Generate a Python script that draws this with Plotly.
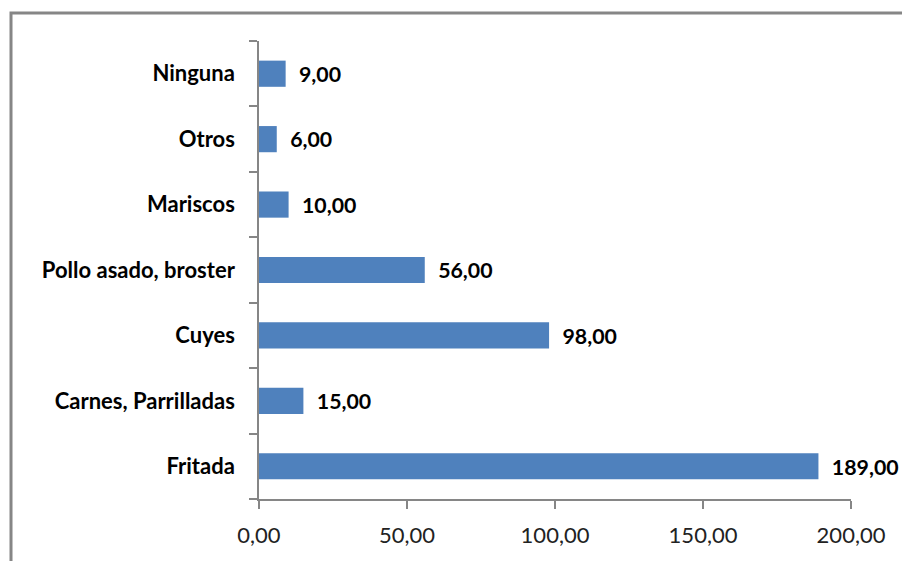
import plotly.graph_objects as go

categories = ["Fritada", "Carnes, Parrilladas", "Cuyes", "Pollo asado, broster", "Mariscos", "Otros", "Ninguna"]
values = [189, 15, 98, 56, 10, 6, 9]
x_ticks = [0, 50, 100, 150, 200]

W, H = 902, 561
ml, mr, mt, mb = 259, 51, 41, 62
pw, ph = W - ml - mr, H - mt - mb

def px(x):
    return (x - ml) / pw

def py(y):
    return (H - mb - y) / ph

axis_color = "#868686"

fig = go.Figure(go.Bar(
    y=categories, x=values, orientation="h",
    marker=dict(color="#4F81BD", line=dict(width=0)),
    texttemplate="\u00a0\u00a0%{x:.2f}", textposition="outside",
    textfont=dict(family="Lato", size=22, color="black", weight="bold"),
    cliponaxis=False, width=0.4,
))

fig.update_layout(
    width=W, height=H, margin=dict(l=ml, r=mr, t=mt, b=mb),
    paper_bgcolor="white", plot_bgcolor="white",
    separators=",.", showlegend=False,
    xaxis=dict(range=[0, 200], tickvals=x_ticks, tickformat=".2f",
               showgrid=False, zeroline=False, showline=True,
               linecolor=axis_color, linewidth=1.5, ticks="outside", ticklen=8,
               tickcolor=axis_color, tickwidth=1.5, ticklabelstandoff=8,
               tickfont=dict(family="Lato", size=22, color="#222")),
    yaxis=dict(showgrid=False, zeroline=False, showline=True,
               linecolor=axis_color, linewidth=1.5, ticks="outside", ticklen=8,
               tickcolor=axis_color, tickwidth=1.5, tickson="boundaries",
               ticklabelstandoff=18,
               tickfont=dict(family="Lato", size=22, color="black", weight="bold")),
    shapes=[dict(type="path", xref="paper", yref="paper",
                 path=f"M {px(11)} {py(562)} L {px(11)} {py(13)} L {px(910)} {py(13)}",
                 line=dict(color=axis_color, width=3))],
)

fig.write_html("out.html", config={"displayModeBar": False},
               post_script="document.body.style.margin='0';document.body.style.overflow='hidden';")
